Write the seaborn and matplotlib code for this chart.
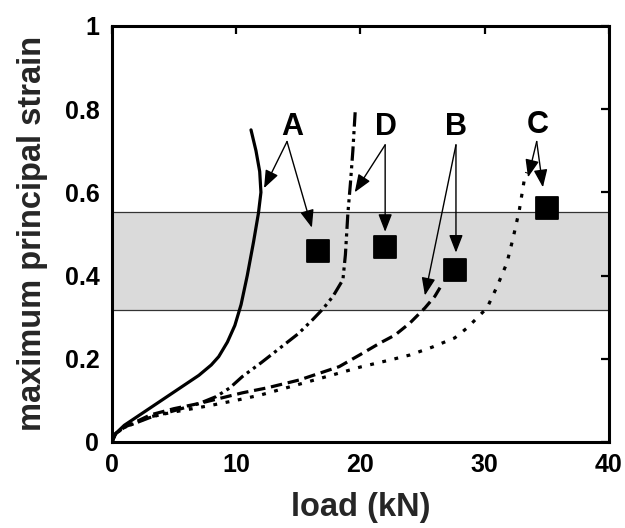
import matplotlib
matplotlib.use("Agg")
import matplotlib.pyplot as plt
import seaborn as sns
import pandas as pd

# Load–strain curves for the four specimens
load_A = [0, 0.3, 1, 2, 3, 4, 5, 6, 7, 8, 8.6, 9.3, 9.9, 10.4, 10.9, 11.4, 11.8, 12.0, 11.9, 11.6, 11.2]
strain_A = [0, 0.02, 0.04, 0.06, 0.08, 0.1, 0.12, 0.14, 0.16, 0.185, 0.205, 0.24, 0.28, 0.33, 0.4, 0.48, 0.55, 0.6, 0.65, 0.7, 0.75]

load_B = [0, 0.3, 1, 3.1, 5, 7.1, 10.5, 12.5, 15.1, 18.3, 20, 21.6, 22.8, 24, 25.2, 26, 26.5]
strain_B = [0, 0.02, 0.035, 0.065, 0.08, 0.093, 0.118, 0.13, 0.149, 0.181, 0.21, 0.238, 0.257, 0.286, 0.322, 0.35, 0.375]

load_C = [0, 0.3, 1, 3, 5, 8, 10, 12, 15, 18, 20, 22.4, 24, 25.8, 27.6, 28.6, 29.4, 30.2, 31, 31.8, 32.3, 32.8, 33.2, 33.4]
strain_C = [0, 0.02, 0.035, 0.06, 0.072, 0.088, 0.1, 0.113, 0.138, 0.163, 0.18, 0.197, 0.209, 0.228, 0.25, 0.274, 0.298, 0.322, 0.373, 0.43, 0.49, 0.557, 0.63, 0.648]

load_D = [0, 0.3, 1, 3, 5, 7, 8.4, 9.5, 10.5, 12, 13.5, 15, 16.2, 17, 17.8, 18.6, 18.8, 19.0, 19.2, 19.4, 19.5, 19.6]
strain_D = [0, 0.02, 0.035, 0.058, 0.075, 0.092, 0.109, 0.13, 0.157, 0.19, 0.225, 0.26, 0.295, 0.32, 0.35, 0.39, 0.45, 0.55, 0.62, 0.7, 0.75, 0.8]

# Failure points
point_labels = ["A", "D", "B", "C"]
point_load = [16.6, 22.0, 27.6, 35.0]
point_strain = [0.46, 0.468, 0.413, 0.562]

# Shaded strain range
band_low, band_high = 0.317, 0.553

x_ticks = [0, 10, 20, 30, 40]
y_ticks = [0, 0.2, 0.4, 0.6, 0.8, 1]
y_tick_labels = ["0", "0.2", "0.4", "0.6", "0.8", "1"]

sns.set_theme(style="white")
plt.rcParams["font.family"] = ["Liberation Sans", "DejaVu Sans"]

fig = plt.figure(figsize=(6.25, 5.28), dpi=100)
ax = fig.add_axes([0.179, 0.163, 0.795, 0.788])

ax.axhspan(band_low, band_high, facecolor="#dadada", edgecolor="none", zorder=0)
ax.axhline(band_low, color="#333333", lw=0.9, zorder=1)
ax.axhline(band_high, color="#333333", lw=0.9, zorder=1)

curves = [
    ("A", load_A, strain_A, (None, None)),
    ("B", load_B, strain_B, (0, (3.6, 1.8))),
    ("C", load_C, strain_C, (0, (1.2, 2.7))),
    ("D", load_D, strain_D, (0, (4.5, 1.4, 1, 1.4, 1, 1.4))),
]
for name, xs, ys, dash in curves:
    df = pd.DataFrame({"load": xs, "strain": ys})
    ax_l = sns.lineplot(data=df, x="load", y="strain", sort=False, estimator=None,
                        ax=ax, color="black", linewidth=2.3)
    ln = ax_l.get_lines()[-1]
    if dash[0] is not None:
        ln.set_linestyle(dash)
        ln.set_dash_capstyle("butt")

pts = pd.DataFrame({"label": point_labels, "load": point_load, "strain": point_strain})
sns.scatterplot(data=pts, x="load", y="strain", marker="s", s=260, color="black",
                edgecolor="black", ax=ax, zorder=5, legend=False)

# Letter labels with arrows: (label, text position, arrow start, arrow tips)
annots = [
    ("A", (14.5, 0.758), (14.1, 0.722), [(12.25, 0.61), (16.1, 0.515)]),
    ("D", (22.1, 0.758), (22.0, 0.714), [(19.55, 0.60), (22.0, 0.505)]),
    ("B", (27.7, 0.758), (27.7, 0.714), [(27.7, 0.455), (25.2, 0.352)]),
    ("C", (34.3, 0.762), (34.2, 0.722), [(33.5, 0.636), (34.7, 0.612)]),
]
for lab, tpos, start, tips in annots:
    ax.text(tpos[0], tpos[1], lab, ha="center", va="center", fontsize=22,
            fontweight="bold", color="black")
    for tip in tips:
        ax.annotate("", xy=tip, xytext=start,
                    arrowprops=dict(arrowstyle="-|>,head_length=0.9,head_width=0.35",
                                    color="black", lw=1.0, shrinkA=0, shrinkB=0))

ax.set_xlim(0, 40)
ax.set_ylim(0, 1)
ax.set_xticks(x_ticks)
ax.set_yticks(y_ticks)
ax.set_yticklabels(y_tick_labels)
ax.tick_params(direction="in", length=6, width=1.6, top=True, right=True,
               labelsize=18, colors="black")
ax.tick_params(axis="x", pad=8)
ax.tick_params(axis="y", pad=9)
for lbl in ax.get_xticklabels() + ax.get_yticklabels():
    lbl.set_fontweight("bold")
for sp in ax.spines.values():
    sp.set_linewidth(2.2)
    sp.set_color("black")

ax.set_xlabel("load (kN)", fontsize=23.5, fontweight="bold", labelpad=11)
ax.set_ylabel("maximum principal strain", fontsize=23.5, fontweight="bold", labelpad=12)

fig.savefig("out.png", dpi=100, facecolor="white")
